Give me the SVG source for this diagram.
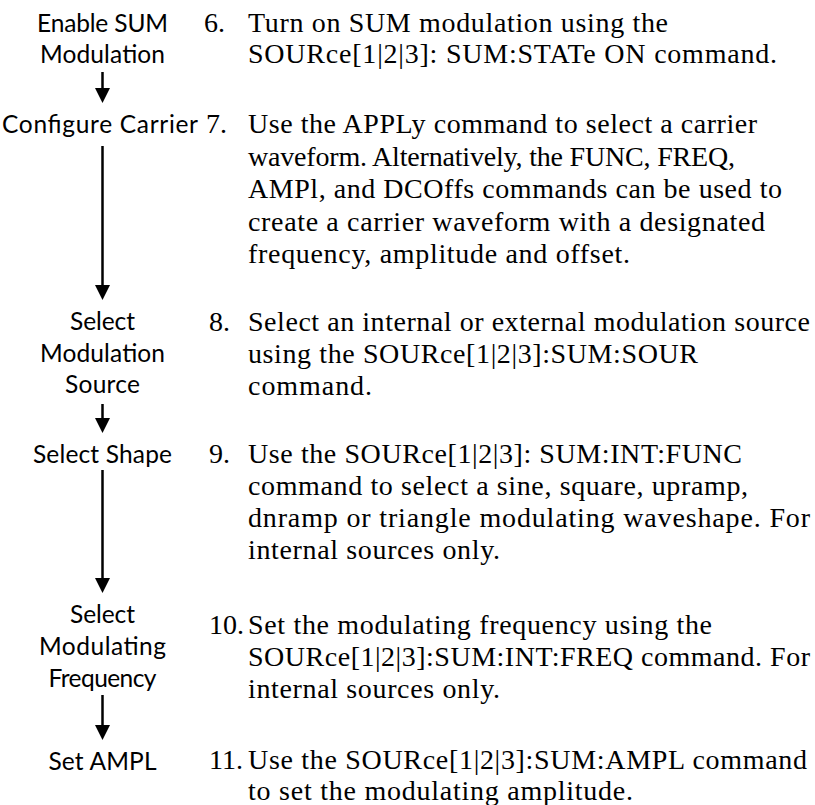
<svg xmlns="http://www.w3.org/2000/svg" width="815" height="805" viewBox="0 0 815 805">
<style>
.lbl{font-family:Lato,"Open Sans","DejaVu Sans",sans-serif;font-size:24.5px;fill:#000;text-anchor:middle}
.num{font-family:"Liberation Serif","Times New Roman",serif;font-size:28px;fill:#000}
.txt{font-family:"Liberation Serif","Times New Roman",serif;font-size:28px;fill:#000}
.arr{stroke:#000;stroke-width:2.5;fill:none;marker-end:url(#head)}
</style>
<defs>
<marker id="head" markerUnits="userSpaceOnUse" markerWidth="15" markerHeight="15" refX="1" refY="7.5" orient="auto" viewBox="0 0 15 15">
<path d="M0,0 L15,7.5 L0,15 z" fill="#000"/>
</marker>
</defs>
<rect width="815" height="805" fill="#fff"/>
<g id="connectors">
<line class="arr" x1="102.5" y1="72" x2="102.5" y2="89"/>
<line class="arr" x1="102.5" y1="146" x2="102.5" y2="286"/>
<line class="arr" x1="102.5" y1="404" x2="102.5" y2="419"/>
<line class="arr" x1="102.5" y1="470" x2="102.5" y2="579"/>
<line class="arr" x1="102.5" y1="695" x2="102.5" y2="726"/>
</g>
<g id="step6">
<text class="lbl" x="102.5" y="32" textLength="131" lengthAdjust="spacing">Enable SUM</text>
<text class="lbl" x="102.5" y="63" textLength="125" lengthAdjust="spacing">Modulation</text>
<text class="num" x="204" y="32">6.</text>
<text class="txt" x="248" y="32" textLength="420" lengthAdjust="spacing">Turn on SUM modulation using the</text>
<text class="txt" x="248" y="63" textLength="529" lengthAdjust="spacing">SOURce[1|2|3]: SUM:STATe ON command.</text>
</g>
<g id="step7">
<text class="lbl" x="100" y="133" textLength="196" lengthAdjust="spacing">Configure Carrier</text>
<text class="num" x="206" y="133">7.</text>
<text class="txt" x="248" y="133" textLength="509" lengthAdjust="spacing">Use the APPLy command to select a carrier</text>
<text class="txt" x="248" y="165.5" textLength="487" lengthAdjust="spacing">waveform. Alternatively, the FUNC, FREQ,</text>
<text class="txt" x="248" y="198" textLength="534" lengthAdjust="spacing">AMPl, and DCOffs commands can be used to</text>
<text class="txt" x="248" y="230.5" textLength="517" lengthAdjust="spacing">create a carrier waveform with a designated</text>
<text class="txt" x="248" y="263" textLength="382" lengthAdjust="spacing">frequency, amplitude and offset.</text>
</g>
<g id="step8">
<text class="lbl" x="102.5" y="330" textLength="65" lengthAdjust="spacing">Select</text>
<text class="lbl" x="102.5" y="362" textLength="125" lengthAdjust="spacing">Modulation</text>
<text class="lbl" x="102.5" y="393" textLength="75" lengthAdjust="spacing">Source</text>
<text class="num" x="209" y="331">8.</text>
<text class="txt" x="248" y="331" textLength="562" lengthAdjust="spacing">Select an internal or external modulation source</text>
<text class="txt" x="248" y="363" textLength="450" lengthAdjust="spacing">using the SOURce[1|2|3]:SUM:SOUR</text>
<text class="txt" x="248" y="395" textLength="124" lengthAdjust="spacing">command.</text>
</g>
<g id="step9">
<text class="lbl" x="102.5" y="463" textLength="139" lengthAdjust="spacing">Select Shape</text>
<text class="num" x="209" y="463">9.</text>
<text class="txt" x="248" y="463" textLength="494" lengthAdjust="spacing">Use the SOURce[1|2|3]: SUM:INT:FUNC</text>
<text class="txt" x="248" y="495" textLength="500" lengthAdjust="spacing">command to select a sine, square, upramp,</text>
<text class="txt" x="248" y="527" textLength="562" lengthAdjust="spacing">dnramp or triangle modulating waveshape. For</text>
<text class="txt" x="248" y="559" textLength="252" lengthAdjust="spacing">internal sources only.</text>
</g>
<g id="step10">
<text class="lbl" x="102.5" y="623" textLength="65" lengthAdjust="spacing">Select</text>
<text class="lbl" x="102.5" y="655" textLength="127" lengthAdjust="spacing">Modulating</text>
<text class="lbl" x="102.5" y="687" textLength="108" lengthAdjust="spacing">Frequency</text>
<text class="num" x="209" y="634">10.</text>
<text class="txt" x="248" y="634" textLength="464" lengthAdjust="spacing">Set the modulating frequency using the</text>
<text class="txt" x="248" y="666" textLength="562" lengthAdjust="spacing">SOURce[1|2|3]:SUM:INT:FREQ command. For</text>
<text class="txt" x="248" y="698" textLength="252" lengthAdjust="spacing">internal sources only.</text>
</g>
<g id="step11">
<text class="lbl" x="102.5" y="770" textLength="108" lengthAdjust="spacing">Set AMPL</text>
<text class="num" x="209" y="769">11.</text>
<text class="txt" x="248" y="769" textLength="559" lengthAdjust="spacing">Use the SOURce[1|2|3]:SUM:AMPL command</text>
<text class="txt" x="248" y="800" textLength="385" lengthAdjust="spacing">to set the modulating amplitude.</text>
</g>
</svg>
